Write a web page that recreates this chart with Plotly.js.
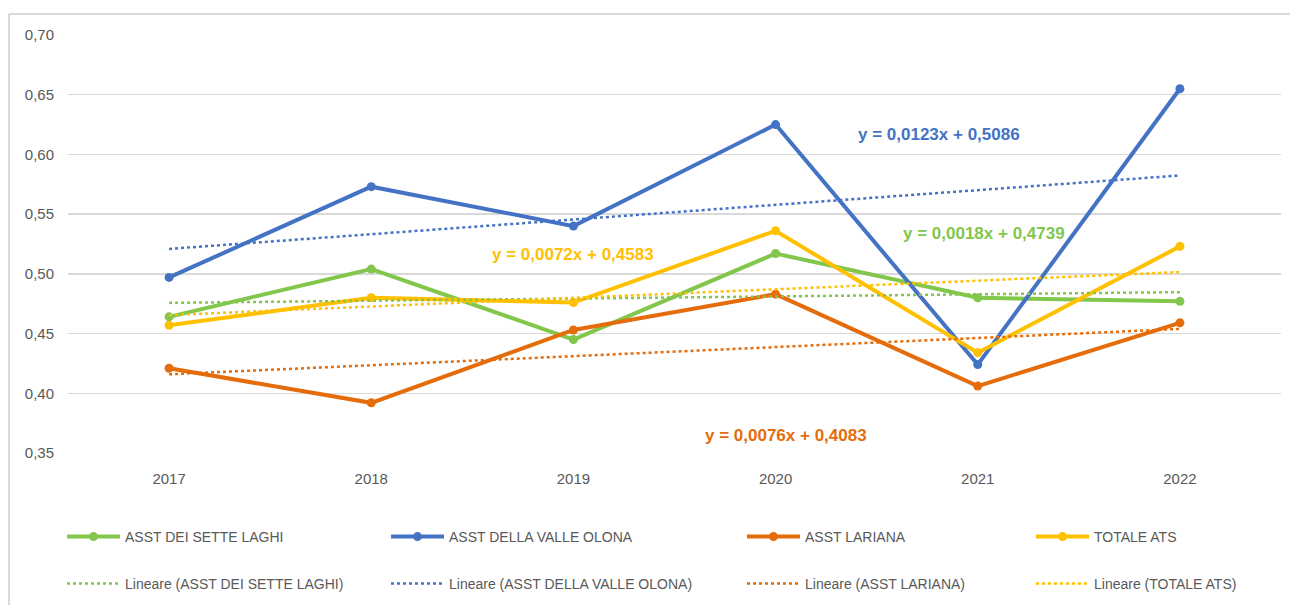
<!DOCTYPE html>
<html>
<head>
<meta charset="utf-8">
<script src="https://cdn.plot.ly/plotly-3.0.1.min.js"></script>
<style>
  html, body { margin: 0; padding: 0; background: #ffffff; }
  #chart { width: 1290px; height: 605px; }
</style>
</head>
<body>
<div id="chart"></div>
<script>
// ---- Data ----
const years = ['2017', '2018', '2019', '2020', '2021', '2022'];
const seriesNames = ['ASST DEI SETTE LAGHI', 'ASST DELLA VALLE OLONA', 'ASST LARIANA', 'TOTALE ATS'];
const setteLaghi = [0.464, 0.504, 0.445, 0.517, 0.480, 0.477];
const valleOlona = [0.497, 0.573, 0.540, 0.625, 0.424, 0.655];
const lariana    = [0.421, 0.392, 0.453, 0.483, 0.406, 0.459];
const totaleAts  = [0.457, 0.480, 0.476, 0.536, 0.434, 0.523];
// Linear trendline coefficients shown in the chart (y = slope*x + intercept, x = 1..6)
const trendSlope     = [0.0018, 0.0123, 0.0076, 0.0072];
const trendIntercept = [0.4739, 0.5086, 0.4083, 0.4583];
const trendLabels = ['y = 0,0018x + 0,4739', 'y = 0,0123x + 0,5086', 'y = 0,0076x + 0,4083', 'y = 0,0072x + 0,4583'];

// ---- Styles ----
const colors = ['#82C64C', '#4472C4', '#E46C0A', '#FFC000'];
const allValues = [setteLaghi, valleOlona, lariana, totaleAts];
const sans = '"Liberation Sans", Arial, sans-serif';

// figure 1290x605; plot area in pixels: x 68..1281, y 35..453
const W = 1290, H = 605;
const PL = 68, PW = 1213, PT = 35, PB = 453;
const pxToPaperX = px => (px - PL) / PW;
const pxToPaperY = py => 1 - py / H;   // margins t=b=0, so paper y spans full height

const traces = [];
allValues.forEach((vals, i) => {
  traces.push({
    type: 'scatter', mode: 'lines+markers',
    name: seriesNames[i], x: years, y: vals,
    line: { color: colors[i], width: 4 },
    marker: { color: colors[i], size: 9, symbol: 'circle' },
    legend: i === 0 ? 'legend' : 'legend' + (2 * i + 1)
  });
});
allValues.forEach((vals, i) => {
  const trendY = years.map((_, k) => trendSlope[i] * (k + 1) + trendIntercept[i]);
  traces.push({
    type: 'scatter', mode: 'lines',
    name: 'Lineare (' + seriesNames[i] + ')', x: years, y: trendY,
    line: { color: colors[i], width: 2.5, dash: '3px,3px' },
    legend: 'legend' + (2 * i + 2)
  });
});

// legend positions (pixels of item origin)
const colX = [62, 386, 742, 1031];
const rowY = [537, 584];
const legendFont = { family: sans, size: 14, color: '#595959' };
const legends = {};
for (let c = 0; c < 4; c++) {
  for (let r = 0; r < 2; r++) {
    const idx = 2 * c + r + 1;
    const key = idx === 1 ? 'legend' : 'legend' + idx;
    legends[key] = {
      xref: 'paper', yref: 'paper',
      x: pxToPaperX(colX[c]), y: pxToPaperY(rowY[r]),
      xanchor: 'left', yanchor: 'middle',
      bgcolor: 'rgba(0,0,0,0)', borderwidth: 0,
      font: legendFont, itemwidth: 53
    };
  }
}

// annotation positions (category index, value)
const labelX = [4.03, 3.81, 3.05, 2.0];
const labelY = [0.5339, 0.6163, 0.365, 0.5166];
const annotations = trendLabels.map((t, i) => ({
  xref: 'x', yref: 'y', x: labelX[i], y: labelY[i],
  text: t, showarrow: false,
  font: { family: sans, size: 17, color: colors[i], weight: 700 },
  xanchor: 'center', yanchor: 'middle'
}));

const layout = Object.assign({
  width: W, height: H,
  margin: { l: PL, r: W - PL - PW, t: 0, b: 0, autoexpand: false },
  paper_bgcolor: '#ffffff', plot_bgcolor: '#ffffff',
  separators: ',.',
  showlegend: true,
  font: { family: sans, size: 15, color: '#595959' },
  xaxis: {
    type: 'category', range: [-0.5, 5.5],
    showgrid: false, zeroline: false, showline: false,
    ticks: '', tickfont: { family: sans, size: 15, color: '#595959' },
    ticklabelstandoff: 15, automargin: false
  },
  yaxis: {
    domain: [1 - PB / H, 1 - PT / H],
    range: [0.35, 0.70], dtick: 0.05, tick0: 0.35, tickformat: '.2f',
    showgrid: true, gridcolor: '#d9d9d9', gridwidth: 1.5,
    zeroline: false, showline: false, ticks: '',
    tickfont: { family: sans, size: 15, color: '#595959' },
    ticklabelstandoff: 13, automargin: false
  },
  annotations: annotations,
  shapes: [
    { type: 'line', xref: 'paper', yref: 'paper',
      x0: pxToPaperX(9), x1: pxToPaperX(9), y0: pxToPaperY(14), y1: pxToPaperY(620),
      line: { color: '#d9d9d9', width: 2 } },
    { type: 'line', xref: 'paper', yref: 'paper',
      x0: pxToPaperX(9), x1: pxToPaperX(1300), y0: pxToPaperY(14), y1: pxToPaperY(14),
      line: { color: '#d9d9d9', width: 2 } }
  ]
}, legends);

Plotly.newPlot('chart', traces, layout, { displayModeBar: false, staticPlot: true });
</script>
</body>
</html>
